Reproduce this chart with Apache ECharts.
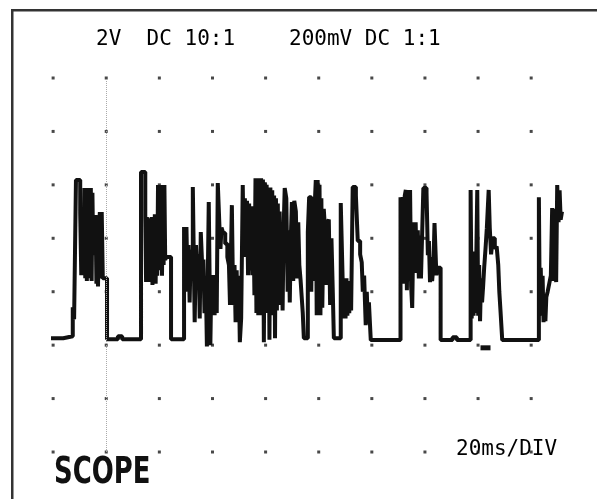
<!DOCTYPE html>
<html>
<head>
<meta charset="utf-8">
<script src="https://cdn.jsdelivr.net/npm/echarts/dist/echarts.min.js"></script>
<style>
  html, body { margin: 0; padding: 0; background: #fff; }
  #main { width: 597px; height: 499px; }
</style>
</head>
<body>
<div id="main"></div>
<script>
// graticule: 20 ms/div across, 2 V/div up
var timeTicks = [0, 20, 40, 60, 80, 100, 120, 140, 160, 180];
var voltTicks = [-4, -2, 0, 2, 4, 6, 8, 10];

// trace (ms, V); each level holds until the next point
var traceMs = [
  -0.8, 3.8, 7.4, 7.9,
  8.6, 10.2, 10.6, 11.0, 11.4, 11.8, 12.1, 12.4, 12.7, 13.0, 13.3, 13.6, 13.9, 14.2, 14.5,
  14.8, 15.1, 15.4, 15.7, 16.0, 16.3, 16.6, 16.9, 17.2, 17.6, 18.0, 18.3, 18.7, 20.3, 24.4, 26.0,
  33.1, 34.7, 35.0, 35.3, 35.6, 35.9, 36.2, 36.5, 36.8, 37.1, 37.4, 37.7, 38.0, 38.3, 38.6,
  38.9, 39.2, 39.5, 39.8, 40.1, 40.4, 40.7, 41.0, 41.3, 41.6, 41.9, 42.2, 42.6, 44.4,
  49.3, 49.8, 50.2, 50.6, 51.0, 51.4, 51.8, 52.6, 53.3, 53.8, 54.3, 54.8, 55.2, 55.6, 56.2,
  56.6, 57.0, 57.5, 57.9, 58.6, 59.2, 59.6, 60.0, 60.4, 60.8, 61.2, 61.6, 62.0, 62.6, 63.0,
  63.4, 64.0, 64.8, 65.6, 66.2, 66.6, 67.3, 67.8, 68.3, 68.7, 69.1, 69.5, 69.9, 70.3, 70.8,
  71.4, 71.8, 72.2, 72.6, 73.0, 73.4, 73.8, 74.2, 74.6, 75.0, 75.4, 75.8,
  76.2, 76.55, 76.9, 77.25, 77.6, 77.95, 78.3, 78.65, 79.0, 79.35, 79.7, 80.05, 80.4, 80.75,
  81.1, 81.45, 81.8, 82.15, 82.5, 82.85, 83.2, 83.55, 83.9, 84.25, 84.6, 84.95, 85.3, 85.65,
  86.0, 86.4, 86.8, 87.2, 87.8, 88.3, 88.7, 89.1, 89.5, 89.9, 90.4, 90.8, 91.4, 91.9, 92.3,
  92.7, 93.2, 93.6, 94.0, 94.4, 95.9, 96.4, 97.2, 97.6, 98.0, 98.4, 98.9, 99.25, 99.6, 99.95,
  100.3, 100.65, 101.0, 101.35, 101.9, 102.4, 102.8, 103.3, 103.8, 104.3, 104.8, 105.3, 105.7,
  108.3, 109.0, 109.4, 109.75, 110.1, 110.45, 110.8, 111.15, 111.5, 111.85, 112.2, 112.8,
  114.0, 114.7, 115.6, 116.2, 116.6, 117.1, 117.7, 118.1, 118.5, 118.9, 119.6,
  130.8, 131.2, 131.6, 132.0, 132.4, 132.8, 133.2, 133.6, 134.0, 134.4, 134.8, 135.2, 135.7,
  136.1, 136.5, 136.9, 137.3, 137.7, 138.1, 138.5, 138.9, 139.4, 140.6, 141.1, 141.5, 141.9,
  142.3, 142.7, 143.2, 143.6, 144.3, 144.9, 145.9, 150.4, 152.0,
  157.2, 157.6, 157.95, 158.3, 158.65, 159.0, 159.35, 159.7, 160.05, 160.4, 160.75, 161.1,
  161.5, 161.9, 162.3, 162.8, 163.3, 164.0, 164.4, 164.9, 165.5, 166.3, 167.0, 167.6, 168.0,
  168.5, 169.1,
  182.9, 183.25, 183.6, 183.95, 184.3, 184.65, 185.0, 185.35, 185.7, 186.2, 186.8, 187.4,
  187.9, 188.5, 188.9, 189.4, 189.8, 190.3, 190.7, 191.1, 191.6
];
var traceVolts = [
  0.26, 0.33, 1.42, 0.97,
  6.18, 4.94, 2.62, 4.9, 2.62, 5.88, 2.5, 5.88, 2.4, 5.88, 2.5, 5.88, 2.62, 5.88, 2.4,
  5.7, 3.4, 4.87, 3.37, 4.87, 2.3, 4.4, 2.2, 4.3, 4.98, 2.5, 4.98, 2.5, 0.22, 0.33, 0.22,
  6.48, 4.8, 2.36, 4.8, 2.9, 4.75, 2.36, 4.7, 3.0, 4.8, 2.25, 4.8, 2.5, 4.9, 2.3,
  4.8, 2.6, 5.99, 2.8, 5.99, 3.0, 5.99, 2.6, 5.99, 3.0, 5.99, 3.2, 3.3, 0.22,
  4.42, 2.0, 4.42, 2.2, 3.75, 1.6, 3.5, 5.92, 0.86, 3.75, 2.6, 3.4, 1.0, 4.23, 2.8,
  3.2, 1.2, 2.4, -0.05, 5.36, 0.0, 2.62, 1.12, 2.62, 1.12, 2.6, 1.2, 6.07, 4.5, 3.6,
  4.4, 4.2, 3.8, 3.3, 3.0, 1.5, 5.24, 1.5, 3.0, 0.86, 2.8, 0.9, 2.6, 0.11, 1.0,
  5.99, 3.3, 5.5, 3.3, 5.4, 2.62, 5.3, 2.8, 5.2, 2.62, 4.87, 1.87,
  6.25, 1.2, 6.25, 1.12, 6.2, 1.3, 6.25, 1.12, 6.2, 0.11, 6.1, 1.2, 6.0, 1.3,
  5.9, 0.2, 5.9, 1.2, 5.8, 1.12, 5.6, 0.26, 5.5, 1.3, 5.3, 1.5, 5.0, 1.6,
  4.5, 1.3, 4.4, 5.88, 5.5, 2.0, 4.3, 1.6, 4.0, 5.36, 2.4, 5.4, 5.0, 2.5, 4.6,
  3.0, 2.4, 1.8, 1.2, 0.26, 4.23, 5.54, 2.0, 5.4, 2.4, 5.0, 6.18, 1.12, 6.18, 1.5,
  6.0, 1.12, 5.5, 1.4, 5.1, 4.3, 2.25, 4.6, 4.7, 1.5, 4.0, 2.0, 0.26,
  5.32, 2.5, 1.0, 2.5, 1.0, 2.5, 1.1, 2.4, 1.2, 2.2, 1.3, 5.92,
  5.6, 3.9, 3.4, 3.1, 2.0, 2.6, 0.75, 2.0, 0.8, 1.6, 0.19,
  5.54, 2.62, 5.54, 2.3, 5.6, 5.81, 2.06, 5.81, 2.4, 5.81, 2.2, 1.39, 4.6,
  3.0, 4.6, 2.7, 4.3, 2.5, 4.1, 2.5, 4.0, 5.88, 5.7, 3.37, 3.9, 2.36,
  3.3, 2.4, 3.0, 4.57, 2.62, 2.9, 0.19, 0.3, 0.19,
  5.81, 1.0, 3.5, 1.1, 3.3, 1.2, 3.4, 5.81, 1.1, 3.0, 0.9, 2.5,
  1.6, 2.2, 2.9, 3.6, 4.38, 5.81, 4.4, 3.4, 4.0, 3.6, 3.7, 3.0, 2.0,
  1.2, 0.19,
  5.54, 1.2, 2.9, 1.1, 2.6, 0.86, 1.76, 0.9, 1.8, 2.0, 2.3, 2.6,
  5.13, 2.4, 5.1, 2.36, 5.99, 4.6, 5.8, 4.7, 5.0
];

var cursorMs = 20.1;
var triggerMark = [162.8, -0.1];

var traceData = traceMs.map(function (t, i) { return [t, traceVolts[i]]; });
var dotData = [];
timeTicks.forEach(function (t) {
  voltTicks.forEach(function (v) { dotData.push([t, v]); });
});

var chart = echarts.init(document.getElementById('main'), null, { renderer: 'canvas' });
var option = {
  animation: false,
  backgroundColor: '#fff',
  grid: { left: -1.2, right: 12.7, top: 78, bottom: 47 },
  xAxis: {
    type: 'value', min: -20, max: 200, interval: 20, show: false
  },
  yAxis: {
    type: 'value', min: -4, max: 10, interval: 2, show: false
  },
  graphic: [
    { type: 'rect', shape: { x: 11, y: 9, width: 586, height: 2.5 }, style: { fill: '#333' } },
    { type: 'rect', shape: { x: 11, y: 9, width: 2.5, height: 490 }, style: { fill: '#333' } },
    {
      type: 'text', x: 96, y: 40,
      style: { text: '2V  DC 10:1', font: '21px "DejaVu Sans Mono"', fill: '#000',
               textAlign: 'left', textVerticalAlign: 'middle' }
    },
    {
      type: 'text', x: 289, y: 40,
      style: { text: '200mV DC 1:1', font: '21px "DejaVu Sans Mono"', fill: '#000',
               textAlign: 'left', textVerticalAlign: 'middle' }
    },
    {
      type: 'text', x: 456, y: 449.5,
      style: { text: '20ms/DIV', font: '21px "DejaVu Sans Mono"', fill: '#000',
               textAlign: 'left', textVerticalAlign: 'middle' }
    },
    {
      type: 'text', x: 54, y: 473.5, scaleX: 0.7,
      style: { text: 'SCOPE', font: 'bold 37px "DejaVu Sans"', fill: '#111',
               textAlign: 'left', textVerticalAlign: 'middle' }
    }
  ],
  series: [
    {
      type: 'scatter',
      data: dotData,
      symbol: 'rect',
      symbolSize: 3,
      itemStyle: { color: '#1a1a1a' },
      silent: true
    },
    {
      type: 'line',
      data: traceData,
      step: 'end',
      symbol: 'none',
      clip: false,
      lineStyle: { color: '#111', width: 4 },
      markLine: {
        silent: true,
        symbol: 'none',
        label: { show: false },
        lineStyle: { color: '#aaa', type: 'dotted', width: 1 },
        data: [{ xAxis: cursorMs }]
      },
      markPoint: {
        silent: true,
        symbol: 'rect',
        symbolSize: [10, 5],
        label: { show: false },
        itemStyle: { color: '#111' },
        data: [{ coord: triggerMark }]
      }
    }
  ]
};
chart.setOption(option);
</script>
</body>
</html>
